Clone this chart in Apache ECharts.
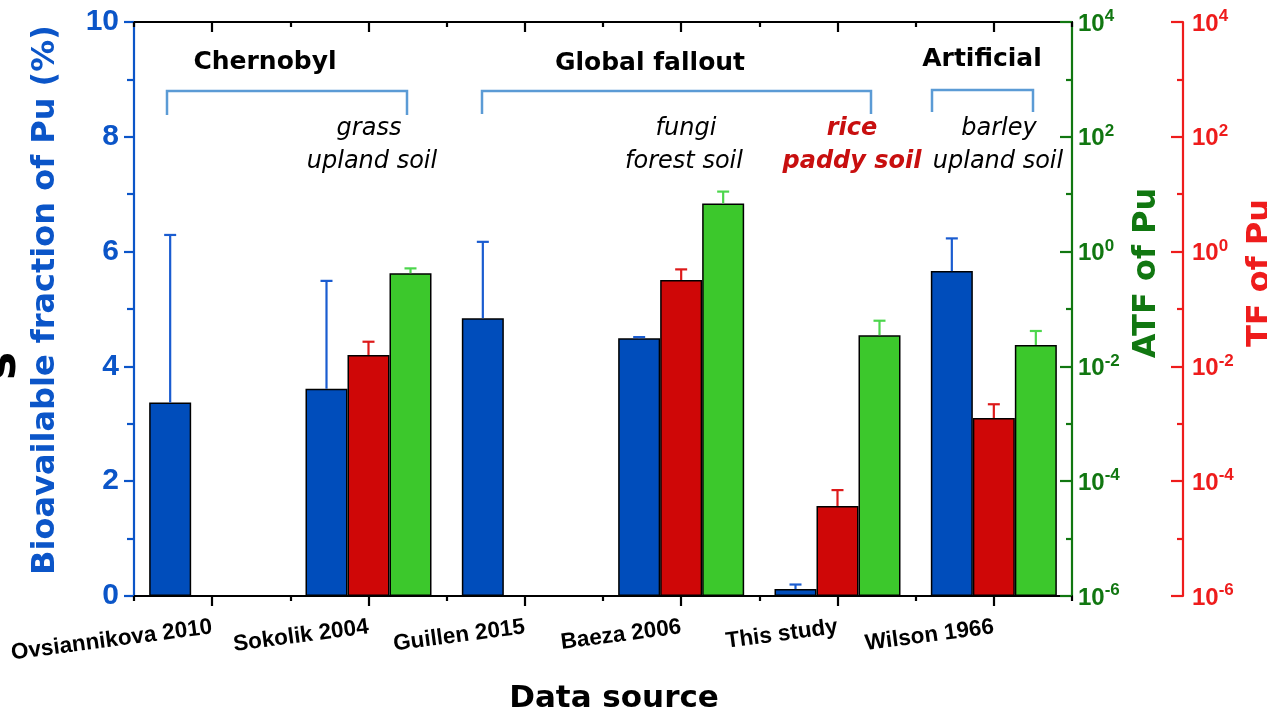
<!DOCTYPE html>
<html><head><meta charset="utf-8">
<script src="https://cdn.jsdelivr.net/npm/echarts@6/dist/echarts.min.js"></script>
<style>html,body{margin:0;padding:0;background:#fff}#c{width:1267px;height:716px}</style>
</head><body><div id="c"></div>
<script>
// ---------------- data ----------------
const categories = ['Ovsiannikova 2010', 'Sokolik 2004', 'Guillen 2015', 'Baeza 2006', 'This study', 'Wilson 1966'];
const bioFraction       = [3.37, 3.61, 4.84, 4.49, 0.12, 5.66];
const bioFractionErrTop = [6.29, 5.49, 6.17, 4.51, 0.20, 6.23];
const tfValues   = [null, 0.0158, null, 0.32, 3.7e-5, 1.26e-3];
const tfErrTop   = [null, 0.0269, null, 0.49, 7.0e-5, 2.19e-3];
const atfValues  = [null, 0.42, null, 6.9, 0.035, 0.0236];
const atfErrTop  = [null, 0.51, null, 11.1, 0.0625, 0.0414];
const bioAxisRange = [0, 10];
const bioAxisStep = 2;
const logAxisRange = [1e-6, 1e4];
const logTickStep = 2; // decades between labelled ticks
const groupNames = ['Chernobyl', 'Global fallout', 'Artificial'];
const plantLines = [['grass', 'upland soil'], ['fungi', 'forest soil'], ['rice', 'paddy soil'], ['barley', 'upland soil']];

// ---------------- style ----------------
const BLUE = '#004dbb', RED = '#cf0707', GREEN = '#3cc82c';
const BLUE_ERR = '#1a5cd0', RED_ERR = '#dd1a1a', GREEN_ERR = '#4cd64c';
const BLUE_AX = '#0b55c8', GREEN_AX = '#117711', RED_AX = '#ee1c1c';
const BR = '#5b9bd5';
const BAR_W = 42;
const TF = 'DejaVu Sans';
const LF = 'Liberation Sans';

function errSeries(vals, tops, yIdx, color, slot) {
  return {
    type: 'custom', xAxisIndex: 0, yAxisIndex: yIdx, z: 3,
    encode: { x: 0, y: 1 },
    data: vals.map((v, i) => v == null ? null : [i, v, tops[i]]).filter(Boolean),
    renderItem: (params, api) => {
      const p0 = api.coord([api.value(0), api.value(1)]);
      const p1 = api.coord([api.value(0), api.value(2)]);
      const cx = p0[0] + slot * BAR_W;
      const st = { stroke: color, lineWidth: 2.2 };
      return { type: 'group', children: [
        { type: 'line', shape: { x1: cx, y1: p0[1], x2: cx, y2: p1[1] }, style: st },
        { type: 'line', shape: { x1: cx - 6, y1: p1[1], x2: cx + 6, y2: p1[1] }, style: st }
      ]};
    }
  };
}

// hidden log axes that carry the TF / ATF bars
function logDataAxis() {
  return {
    type: 'log', logBase: 10, position: 'right', show: false,
    min: logAxisRange[0], max: logAxisRange[1], startValue: logAxisRange[0],
    splitLine: { show: false }
  };
}

// visible decade axes (exponent scale, aligned with the log axes above)
function decadeAxis(name, color, offset, nameGap, labelMargin) {
  return {
    type: 'value', position: 'right', offset: offset,
    min: Math.log10(logAxisRange[0]), max: Math.log10(logAxisRange[1]), interval: logTickStep,
    name: name, nameLocation: 'middle', nameGap: nameGap,
    nameTextStyle: { color: color, fontFamily: TF, fontWeight: 'bold', fontSize: 32, padding: [0, 0, 0, 72] },
    axisLine: { show: true, lineStyle: { color: color, width: 2.2 } },
    axisTick: { show: true, inside: true, length: 12, lineStyle: { color: color, width: 2.2 } },
    minorTick: { show: true, splitNumber: 2, length: 6, lineStyle: { color: color, width: 2.2 } },
    axisLabel: {
      margin: labelMargin,
      formatter: e => '{b|10}{s|' + Math.round(e) + '}',
      rich: {
        b: { fontFamily: LF, fontWeight: 'bold', fontSize: 24, color: color, verticalAlign: 'bottom', lineHeight: 28 },
        s: { fontFamily: LF, fontWeight: 'bold', fontSize: 17, color: color, verticalAlign: 'top', lineHeight: 16 }
      }
    },
    splitLine: { show: false }, minorSplitLine: { show: false }
  };
}

const catAxisBase = { type: 'category', data: categories, boundaryGap: true };

const option = {
  animation: false,
  backgroundColor: '#fff',
  grid: { left: 134, right: 195, top: 22, bottom: 120, containLabel: false, outerBoundsMode: 'none' },
  xAxis: [
    Object.assign({}, catAxisBase, {
      position: 'bottom',
      name: 'Data source', nameLocation: 'middle', nameGap: 87,
      nameTextStyle: { color: '#000', fontFamily: TF, fontWeight: 'bold', fontSize: 31, padding: [0, 0, 0, 22] },
      axisLine: { show: true, onZero: false, lineStyle: { color: '#000', width: 2.2 } },
      axisTick: { show: true, alignWithLabel: true, inside: false, length: 10, lineStyle: { color: '#000', width: 2.2 } },
      axisLabel: { interval: 0, rotate: 7.5, margin: 31, color: '#000', fontFamily: LF, fontWeight: 'bold', fontSize: 22.5 }
    }),
    Object.assign({}, catAxisBase, {
      position: 'bottom',
      axisLine: { show: false, onZero: false },
      axisTick: { show: true, inside: false, length: 5, lineStyle: { color: '#000', width: 2.2 } },
      axisLabel: { show: false }
    }),
    Object.assign({}, catAxisBase, {
      position: 'top',
      axisLine: { show: true, onZero: false, lineStyle: { color: '#000', width: 2.2 } },
      axisTick: { show: true, alignWithLabel: true, inside: true, length: 10, lineStyle: { color: '#000', width: 2.2 } },
      axisLabel: { show: false }
    }),
    Object.assign({}, catAxisBase, {
      position: 'top',
      axisLine: { show: false, onZero: false },
      axisTick: { show: true, inside: true, length: 5, lineStyle: { color: '#000', width: 2.2 } },
      axisLabel: { show: false }
    })
  ],
  yAxis: [
    {
      type: 'value', position: 'left', min: bioAxisRange[0], max: bioAxisRange[1], interval: bioAxisStep,
      name: 'Bioavailable fraction of Pu (%)', nameLocation: 'middle', nameGap: 72,
      nameTextStyle: { color: BLUE_AX, fontFamily: TF, fontWeight: 'bold', fontSize: 32, padding: [0, 0, 0, 18] },
      axisLine: { show: true, lineStyle: { color: BLUE_AX, width: 2.2 } },
      axisTick: { show: true, inside: false, length: 10, lineStyle: { color: BLUE_AX, width: 2.2 } },
      minorTick: { show: true, splitNumber: 2, length: 7, lineStyle: { color: BLUE_AX, width: 2.2 } },
      axisLabel: { color: BLUE_AX, fontFamily: LF, fontWeight: 'bold', fontSize: 30, margin: 15 },
      splitLine: { show: false }
    },
    logDataAxis(),                                  // 1: ATF data
    logDataAxis(),                                  // 2: TF data
    decadeAxis('ATF of Pu', GREEN_AX, 0, 57, 6),    // 3: visible ATF scale
    decadeAxis('TF of Pu', RED_AX, 111, 47, 9)      // 4: visible TF scale
  ],
  series: [
    { type: 'bar', name: 'Bioavailable fraction', xAxisIndex: 0, yAxisIndex: 0, data: bioFraction,
      barWidth: BAR_W, barGap: '0%', itemStyle: { color: BLUE, borderColor: '#000', borderWidth: 1.5 } },
    { type: 'bar', name: 'TF', xAxisIndex: 0, yAxisIndex: 2, data: tfValues,
      barWidth: BAR_W, barGap: '0%', itemStyle: { color: RED, borderColor: '#000', borderWidth: 1.5 } },
    { type: 'bar', name: 'ATF', xAxisIndex: 0, yAxisIndex: 1, data: atfValues,
      barWidth: BAR_W, barGap: '0%', itemStyle: { color: GREEN, borderColor: '#000', borderWidth: 1.5 } },
    errSeries(bioFraction, bioFractionErrTop, 0, BLUE_ERR, -1),
    errSeries(tfValues, tfErrTop, 2, RED_ERR, 0),
    errSeries(atfValues, atfErrTop, 1, GREEN_ERR, 1)
  ],
  graphic: [
    { type: 'text', x: 265, y: 62, style: { text: groupNames[0], font: 'bold 25px "DejaVu Sans"', fill: '#000', align: 'center', verticalAlign: 'middle' } },
    { type: 'text', x: 650, y: 63, style: { text: groupNames[1], font: 'bold 25px "DejaVu Sans"', fill: '#000', align: 'center', verticalAlign: 'middle' } },
    { type: 'text', x: 982, y: 59, style: { text: groupNames[2], font: 'bold 25px "DejaVu Sans"', fill: '#000', align: 'center', verticalAlign: 'middle' } },
    { type: 'polyline', shape: { points: [[167, 115], [167, 91], [407, 91], [407, 115]] }, style: { stroke: BR, lineWidth: 2.5, fill: null } },
    { type: 'polyline', shape: { points: [[482, 114], [482, 91], [871, 91], [871, 114]] }, style: { stroke: BR, lineWidth: 2.5, fill: null } },
    { type: 'polyline', shape: { points: [[932, 112], [932, 90], [1033, 90], [1033, 112]] }, style: { stroke: BR, lineWidth: 2.5, fill: null } },
    { type: 'text', x: 369, y: 129, style: { text: plantLines[0][0], font: 'italic 24px "DejaVu Sans"', fill: '#000', align: 'center', verticalAlign: 'middle' } },
    { type: 'text', x: 372, y: 162, style: { text: plantLines[0][1], font: 'italic 24px "DejaVu Sans"', fill: '#000', align: 'center', verticalAlign: 'middle' } },
    { type: 'text', x: 686, y: 129, style: { text: plantLines[1][0], font: 'italic 24px "DejaVu Sans"', fill: '#000', align: 'center', verticalAlign: 'middle' } },
    { type: 'text', x: 684, y: 162, style: { text: plantLines[1][1], font: 'italic 24px "DejaVu Sans"', fill: '#000', align: 'center', verticalAlign: 'middle' } },
    { type: 'text', x: 852, y: 129, style: { text: plantLines[2][0], font: 'italic bold 24px "DejaVu Sans"', fill: '#c80f0f', align: 'center', verticalAlign: 'middle' } },
    { type: 'text', x: 852, y: 162, style: { text: plantLines[2][1], font: 'italic bold 24px "DejaVu Sans"', fill: '#c80f0f', align: 'center', verticalAlign: 'middle' } },
    { type: 'text', x: 999, y: 129, style: { text: plantLines[3][0], font: 'italic 24px "DejaVu Sans"', fill: '#000', align: 'center', verticalAlign: 'middle' } },
    { type: 'text', x: 998, y: 162, style: { text: plantLines[3][1], font: 'italic 24px "DejaVu Sans"', fill: '#000', align: 'center', verticalAlign: 'middle' } },
    { type: 'text', x: 3, y: 366, rotation: Math.PI / 2, style: { text: 's', font: 'bold 48px "DejaVu Sans"', fill: '#000', align: 'center', verticalAlign: 'middle' } }
  ]
};

const chart = echarts.init(document.getElementById('c'), null, { renderer: 'canvas' });
chart.setOption(option);
</script>
</body></html>
